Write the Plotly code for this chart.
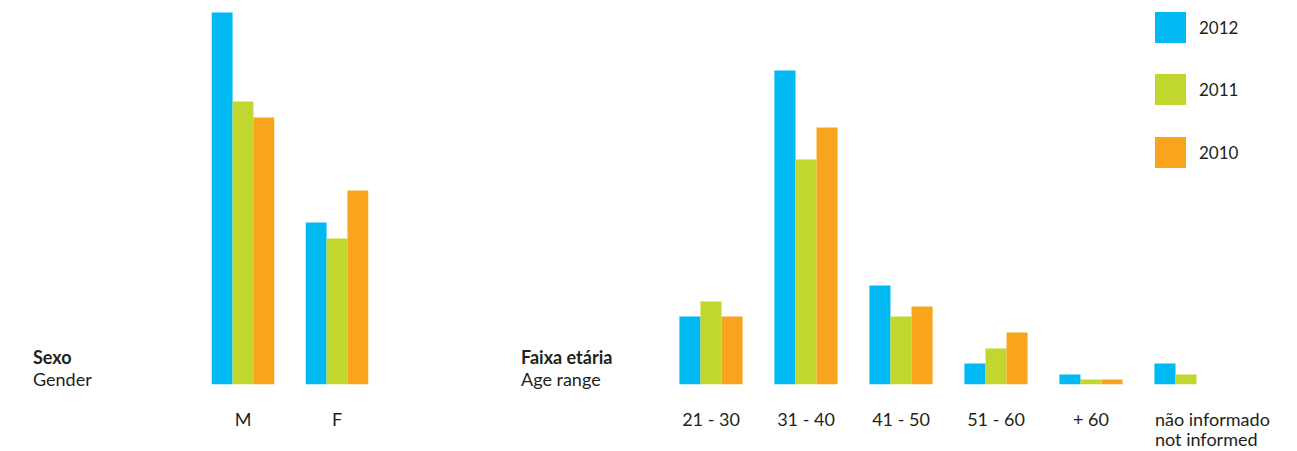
import plotly.graph_objects as go

W, H = 1297, 451

years = ["2012", "2011", "2010"]
colors = ["#00B9F2", "#C1D72F", "#F8A51D"]

gender_cats = ["M", "F"]
gender_2012 = [372, 162]
gender_2011 = [283, 146]
gender_2010 = [267, 194]

age_cats = ["21 - 30", "31 - 40", "41 - 50", "51 - 60", "+ 60", "não informado"]
age_ticktext = ["21 - 30", "31 - 40", "41 - 50", "51 - 60", "+ 60", ""]
age_2012 = [68, 314, 99, 21, 10, 21]
age_2011 = [83, 225, 68, 36, 5, 10]
age_2010 = [68, 257, 78, 52, 5, 0]

gender_vals = [gender_2012, gender_2011, gender_2010]
age_vals = [age_2012, age_2011, age_2010]

FONT = "Lato, 'Noto Sans', sans-serif"
TXT = "#231F20"
FS = 18
FS_LEG = 17

fig = go.Figure()
for yr, col, gv, av in zip(years, colors, gender_vals, age_vals):
    fig.add_trace(go.Bar(x=gender_cats, y=gv, name=yr, marker_color=col,
                         marker_line_width=0, xaxis="x", yaxis="y", showlegend=False))
    fig.add_trace(go.Bar(x=age_cats, y=av, name=yr, marker_color=col,
                         marker_line_width=0, xaxis="x2", yaxis="y", showlegend=False))

def px(x):
    return x / W

def py(y):
    return 1 - y / H

base = 384.5
fig.update_layout(
    width=W, height=H,
    margin=dict(l=0, r=0, t=0, b=0),
    paper_bgcolor="white", plot_bgcolor="white",
    barmode="group", bargap=0.335, bargroupgap=0,
    font=dict(family=FONT, size=FS, color=TXT),
    xaxis=dict(domain=[px(196), px(384)], range=[-0.5, 1.5], anchor="y",
               showgrid=False, zeroline=False, showline=False,
               ticks="outside", ticklen=19, tickcolor="rgba(0,0,0,0)",
               tickfont=dict(family=FONT, size=FS, color=TXT)),
    xaxis2=dict(domain=[px(663.5), px(1233.5)], range=[-0.5, 5.5], anchor="y",
                showgrid=False, zeroline=False, showline=False,
                tickmode="array", tickvals=age_cats, ticktext=age_ticktext,
                ticks="outside", ticklen=19, tickcolor="rgba(0,0,0,0)",
                tickfont=dict(family=FONT, size=FS, color=TXT)),
    yaxis=dict(domain=[py(base), 1], range=[0, base], visible=False),
)

def txt(x, y, t, size=FS):
    return dict(x=px(x), y=py(y), xref="paper", yref="paper", text=t,
                showarrow=False, xanchor="left", yanchor="middle", align="left",
                borderpad=0, font=dict(family=FONT, size=size, color=TXT))

ann = []
ann.append(txt(1154, 419, "não informado"))
ann.append(txt(1154, 438.5, "not informed"))
for x0, t1, t2 in [(32, "Sexo", "Gender"), (520, "Faixa etária", "Age range")]:
    ann.append(txt(x0, 357, "<b>" + t1 + "</b>"))
    ann.append(txt(x0, 379, t2))

shapes = []
leg_tops = [12, 74, 137]
for yr, col, top in zip(years, colors, leg_tops):
    shapes.append(dict(type="rect", xref="paper", yref="paper",
                       x0=px(1155), x1=px(1186), y0=py(top + 31), y1=py(top),
                       fillcolor=col, line=dict(width=0)))
    ann.append(txt(1198, top + 15.5, yr, FS_LEG))

fig.update_layout(annotations=ann, shapes=shapes)
fig.write_html("out.html")
